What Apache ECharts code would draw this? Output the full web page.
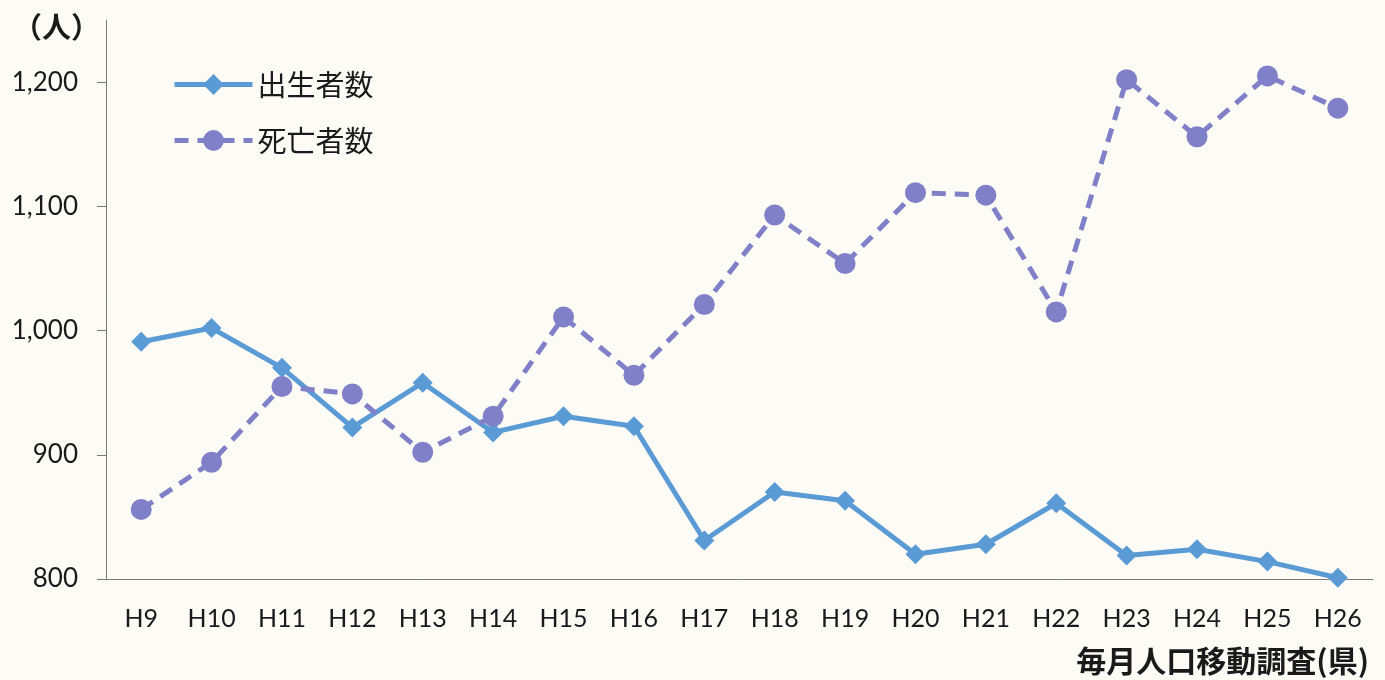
<!DOCTYPE html>
<html>
<head>
<meta charset="utf-8">
<script src="https://cdn.jsdelivr.net/npm/echarts@6/dist/echarts.min.js"></script>
<style>
html,body{margin:0;padding:0;background:#fcfbf5;}
#c{width:1385px;height:680px;}
</style>
</head>
<body>
<div id="c"></div>
<script>
const categories = ['H9','H10','H11','H12','H13','H14','H15','H16','H17','H18','H19','H20','H21','H22','H23','H24','H25','H26'];
const births = [991, 1002, 970, 922, 958, 918, 931, 923, 831, 870, 863, 820, 828, 861, 819, 824, 814, 801];
const deaths = [856, 894, 955, 949, 902, 931, 1011, 964, 1021, 1093, 1054, 1111, 1109, 1015, 1202, 1156, 1205, 1179];
const yTicks = [800, 900, 1000, 1100, 1200];
const seriesNames = ['出生者数', '死亡者数'];
const unitLabel = '（人）';
const sourceLabel = '毎月人口移動調査(県)';

const chart = echarts.init(document.getElementById('c'));
const latin = 'Lato, "Noto Sans CJK JP", sans-serif';
const cjk = '"Noto Sans CJK JP", sans-serif';
chart.setOption({
  backgroundColor: '#fcfbf5',
  animation: false,
  grid: {left: 106, right: 12, top: 20, bottom: 101, containLabel: false},
  legend: {
    orient: 'vertical', left: 172, top: 70, padding: 0,
    itemWidth: 78, itemHeight: 26, itemGap: 27,
    lineStyle: {width: 'inherit'},
    textStyle: {fontSize: 29, color: '#1a1a1a', fontFamily: cjk},
    data: seriesNames
  },
  xAxis: {
    type: 'category', data: categories, boundaryGap: true,
    axisLine: {lineStyle: {color: '#7a7a7a', width: 1}},
    axisTick: {show: false},
    axisLabel: {fontSize: 25, color: '#1a1a1a', margin: 27, fontFamily: latin}
  },
  yAxis: {
    type: 'value', min: 800, max: 1250, interval: 100,
    axisLine: {show: true, lineStyle: {color: '#7a7a7a', width: 1}},
    axisTick: {show: true, length: 9, lineStyle: {color: '#7a7a7a'}, customValues: yTicks},
    splitLine: {show: false},
    axisLabel: {
      fontSize: 26, color: '#1a1a1a', margin: 28, fontFamily: latin,
      customValues: yTicks,
      formatter: v => v.toLocaleString('en-US')
    }
  },
  graphic: [
    {type: 'text', left: 13, top: 12, style: {text: unitLabel, fontSize: 29, fontWeight: 'bold', fill: '#1a1a1a', fontFamily: cjk}},
    {type: 'text', right: 16, top: 646, style: {text: sourceLabel, fontSize: 30, fontWeight: 'bold', fill: '#1a1a1a', fontFamily: cjk}}
  ],
  series: [
    {
      name: seriesNames[0], type: 'line', data: births,
      symbol: 'diamond', symbolSize: 20,
      lineStyle: {color: '#5b9bd5', width: 5},
      itemStyle: {color: '#5b9bd5'}
    },
    {
      name: seriesNames[1], type: 'line', data: deaths,
      symbol: 'circle', symbolSize: 21,
      lineStyle: {color: '#7f80c8', width: 5, type: [14, 9]},
      itemStyle: {color: '#7f80c8'}
    }
  ]
});
</script>
</body>
</html>
